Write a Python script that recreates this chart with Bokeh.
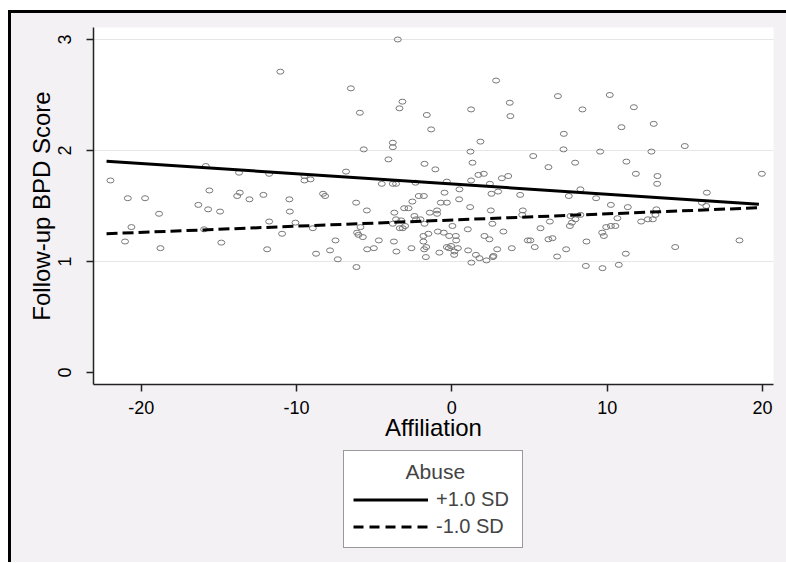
from bokeh.plotting import figure
from bokeh.layouts import column
from bokeh.models import Range1d, FixedTicker, Legend, LegendItem, ColumnDataSource
from bokeh.embed import file_html
from bokeh.resources import INLINE

# ---- data ----
affiliation = [
    -11.04, -6.50, -5.92, -5.67, -3.80, -3.80, -4.08, -6.81, -3.48, -3.37, -3.18,
    -21.98, -15.84, -13.70, -11.76, -9.49, -9.49, -9.10, -4.51, -3.80, -3.59,
    -15.61, -13.65, -13.82, -12.13, -13.03, -8.29, -8.16, -20.86, -19.75, -10.46,
    -10.43, -18.85, -16.32, -15.69, -14.92, -20.63, -21.04, -18.76, -15.95, -14.84,
    -11.76, -11.89, -10.93, -10.07, -8.95, -8.74, -7.84, -7.49, -7.34, -6.14,
    -6.16, -5.47, -6.10, -6.01, -5.73, -5.88, -5.45, -5.02, -4.70, -3.73,
    -3.57, -3.80, -3.59, -3.70, -3.35,
    2.85, -1.61, -1.33, 1.24, 3.73, 3.77, 6.83, 8.41, 10.17, 11.72,
    10.92, 13.00, 15.00, 7.21, 7.19, 9.55, 12.85, 11.24, 11.85, 13.24,
    13.22, 19.96, 16.42, 7.94, 6.22, 5.24, 1.84, 1.20, 1.33, 1.71,
    2.06, 3.22, 3.63, -1.76, -1.06, -2.34, -0.32, 1.24, 2.45, 0.49,
    -0.47, 2.55, 2.98, 4.40, 7.53, 8.28, 9.29, -2.13, -1.80,
    -2.54, -0.71, -0.32, 0.47, -3.07, -2.79, -1.42, -0.95, -0.95, 1.18,
    2.51, 4.57, 4.53, -2.41, -2.30, -2.02, -3.26, -1.76, -3.16, -3.01,
    2.61, 5.71, 0.04, 1.03, -0.90, -0.52, -0.17, 0.26, -1.51, -1.83,
    2.10, 2.42, 3.32, 0.28, -1.83, -1.65, -1.78, -2.60, -0.80, -0.32,
    -0.05, -0.19, 0.39, 0.17, 0.15, -1.67, 1.05, 1.55, 1.78, 2.23,
    2.68, 2.64, 2.92, 1.26, 3.86, 4.89, 5.06, 5.34,
    6.31, 6.22, 6.48, 6.78, 7.36, 7.60, 7.73, 7.96, 7.64, 8.28,
    8.67, 8.63, 9.70, 9.68, 9.79, 9.94, 10.24, 10.53, 10.24, 10.66,
    10.75, 11.20, 11.33, 12.19, 12.62, 12.94, 13.11, 13.17, 14.38, 16.10,
    16.38, 18.52,
]
bpd_score = [
    2.71, 2.56, 2.34, 2.01, 2.07, 2.03, 1.92, 1.81, 3.00, 2.38, 2.44,
    1.73, 1.86, 1.80, 1.79, 1.77, 1.73, 1.74, 1.70, 1.70, 1.70,
    1.64, 1.62, 1.59, 1.60, 1.56, 1.61, 1.59, 1.57, 1.57, 1.56,
    1.45, 1.43, 1.51, 1.47, 1.45, 1.31, 1.18, 1.12, 1.29, 1.17,
    1.36, 1.11, 1.25, 1.35, 1.30, 1.07, 1.10, 1.19, 1.02, 0.95,
    1.53, 1.46, 1.26, 1.24, 1.22, 1.31, 1.11, 1.12, 1.19, 1.18,
    1.09, 1.34, 1.38, 1.44, 1.30,
    2.63, 2.32, 2.19, 2.37, 2.43, 2.31, 2.49, 2.37, 2.50, 2.39,
    2.21, 2.24, 2.04, 2.15, 2.01, 1.99, 1.99, 1.90, 1.79, 1.77,
    1.70, 1.79, 1.62, 1.89, 1.85, 1.95, 2.08, 1.99, 1.89, 1.78,
    1.79, 1.75, 1.77, 1.88, 1.83, 1.71, 1.72, 1.73, 1.70, 1.65,
    1.62, 1.61, 1.63, 1.60, 1.59, 1.65, 1.57, 1.59, 1.59,
    1.54, 1.53, 1.53, 1.56, 1.48, 1.48, 1.44, 1.46, 1.43, 1.49,
    1.46, 1.46, 1.42, 1.41, 1.38, 1.38, 1.37, 1.34, 1.30, 1.32,
    1.34, 1.30, 1.32, 1.29, 1.27, 1.26, 1.23, 1.23, 1.25, 1.23,
    1.23, 1.20, 1.27, 1.19, 1.18, 1.13, 1.11, 1.12, 1.08, 1.13,
    1.14, 1.12, 1.12, 1.09, 1.06, 1.04, 1.10, 1.06, 1.03, 1.01,
    1.05, 1.04, 1.11, 0.99, 1.12, 1.19, 1.19, 1.13,
    1.36, 1.20, 1.21, 1.045, 1.11, 1.32, 1.35, 1.38, 1.41, 1.42,
    1.18, 0.96, 0.94, 1.26, 1.23, 1.31, 1.32, 1.32, 1.51, 1.39,
    0.97, 1.07, 1.49, 1.36, 1.38, 1.38, 1.42, 1.47, 1.13, 1.53,
    1.50, 1.19,
]

# fitted simple slopes (endpoints)
line_x = [-22.23, 19.77]
high_abuse = [1.904, 1.516]   # +1.0 SD
low_abuse = [1.25, 1.484]     # -1.0 SD

x_ticks = [-20, -10, 0, 10, 20]
x_tick_labels = ["-20", "-10", "0", "10", "20"]
y_ticks = [0, 1, 2, 3]
legend_title = "Abuse"
legend_labels = ["+1.0 SD", "-1.0 SD"]

FONT = "Liberation Sans"
BG = "#f4f1f4"

p = figure(
    output_backend="svg", toolbar_location=None,
    frame_width=680, frame_height=357,
    min_border_left=82, min_border_top=14, min_border_right=13, min_border_bottom=62,
    x_range=Range1d(-23.07, 20.71), y_range=Range1d(-0.108, 3.108),
    background_fill_color="white", border_fill_color=BG,
    outline_line_color=None,
)

src = ColumnDataSource(dict(x=affiliation, y=bpd_score))
p.ellipse(x="x", y="y", width=7, height=5, width_units="screen", height_units="screen",
          source=src, fill_color=None, line_color="#777777", line_width=1)

p.line(line_x, high_abuse, line_color="black", line_width=3)
p.line(line_x, low_abuse, line_color="black", line_width=3, line_dash="11 5")

# axes
p.xaxis.ticker = FixedTicker(ticks=x_ticks)
p.xaxis.major_label_overrides = dict(zip(x_ticks, x_tick_labels))
p.yaxis.ticker = FixedTicker(ticks=y_ticks)
p.xgrid.visible = False
p.ygrid.ticker = FixedTicker(ticks=[1, 2, 3])
p.ygrid.grid_line_color = "#e6e6e6"
p.ygrid.grid_line_width = 1

for ax in (p.xaxis, p.yaxis):
    ax.axis_line_color = "#222222"
    ax.axis_line_width = 1.5
    ax.major_tick_line_color = "#222222"
    ax.major_tick_line_width = 1.5
    ax.major_tick_out = 7
    ax.major_tick_in = 0
    ax.minor_tick_line_color = None
    ax.major_label_text_font = FONT
    ax.major_label_text_font_size = "18px"
    ax.major_label_text_color = "black"
    ax.axis_label_text_font = FONT
    ax.axis_label_text_font_size = "24px"
    ax.axis_label_text_font_style = "normal"
    ax.axis_label_text_color = "black"

p.xaxis.axis_label = "Affiliation"
p.xaxis.major_label_standoff = 9
p.xaxis.axis_label_standoff = -3
p.yaxis.axis_label = "Follow-up BPD Score"
p.yaxis.major_label_orientation = "vertical"
p.yaxis.major_label_standoff = 15
p.yaxis.axis_label_standoff = 1

# ---- legend panel (below the plot, same background) ----
# its ranges are placed away from the data so the key lines only show in the legend
q = figure(
    output_backend="svg", toolbar_location=None,
    width=775, height=116,
    min_border_left=0, min_border_right=0, min_border_top=0, min_border_bottom=0,
    x_range=Range1d(100, 101), y_range=Range1d(100, 101),
    background_fill_alpha=0, border_fill_color=BG, outline_line_color=None,
)
q.axis.visible = False
q.grid.visible = False
k_hi = q.line(line_x, high_abuse, line_color="black", line_width=3)
k_lo = q.line(line_x, low_abuse, line_color="black", line_width=3, line_dash="10 6")

legend = Legend(
    items=[LegendItem(label=legend_labels[0], renderers=[k_hi]),
           LegendItem(label=legend_labels[1], renderers=[k_lo])],
    title="\u00a0" * 9 + legend_title, title_text_font=FONT, title_text_font_size="21px",
    title_text_font_style="normal", title_standoff=4,
    label_text_font=FONT, label_text_font_size="20px",
    border_line_color="#333333", border_line_width=1,
    background_fill_color="white", background_fill_alpha=1.0,
    glyph_width=75, glyph_height=23, label_height=23, label_width=77, label_standoff=8,
    padding=9, spacing=4, margin=0, location=(250, 14),
)
q.add_layout(legend, "center")

layout = column(p, q, spacing=0)
layout.styles = {"margin-left": "8px", "margin-top": "10px", "vertical-align": "top",
                 "background-color": BG,
                 "border-left": "3px solid black", "border-top": "3px solid black"}

open("out.html", "w").write(file_html(layout, INLINE))
